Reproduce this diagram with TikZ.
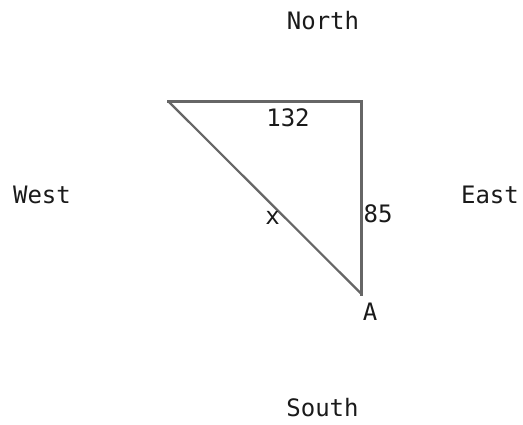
\documentclass[tikz,border=0pt]{standalone}
\usepackage{fontspec}
\setmonofont{DejaVu Sans Mono}
\definecolor{edgegray}{HTML}{666666}
\definecolor{txt}{HTML}{1A1A1A}
\begin{document}
\begin{tikzpicture}[x=1pt,y=-1pt,
  lbl/.style={inner sep=0pt,text=txt,font=\ttfamily\fontsize{24}{24}\selectfont},
  side/.style={draw=edgegray,line width=3.3pt,line cap=rect},
  hyp/.style={draw=edgegray,line width=2.2pt}]
\useasboundingbox[fill=white] (0,0) rectangle (523,425);
\coordinate (tl) at (168.5,101.5);
\coordinate (tr) at (361.5,101.5);
\coordinate (bt) at (361.5,294);
\draw[side] (tl) -- (tr) -- (bt);
\draw[hyp] (tl) -- (bt);
\node[lbl] (north) at (323,21) {North};
\node[lbl] (west) at (42,195) {West};
\node[lbl] (east) at (490,195) {East};
\node[lbl] (south) at (322.5,408) {South};
\node[lbl] (l132) at (288,117.5) {132};
\node[lbl] (l85) at (378,214) {85};
\node[lbl] (lx) at (272.5,218) {x};
\node[lbl] (lA) at (370,312) {A};
\end{tikzpicture}
\end{document}
